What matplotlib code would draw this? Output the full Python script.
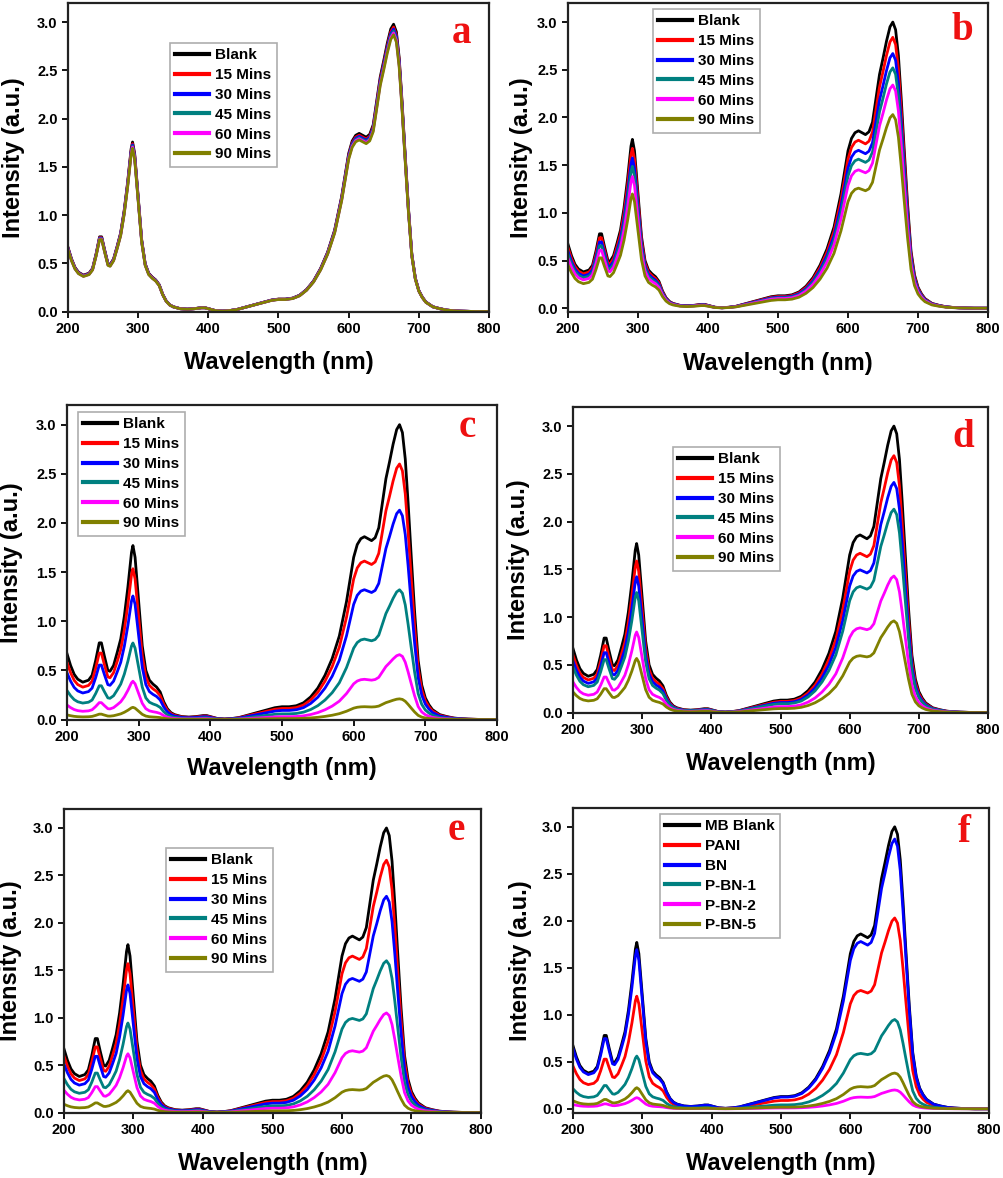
import numpy as np
import matplotlib
matplotlib.use('Agg')
import matplotlib.pyplot as plt

plt.rcParams['font.family'] = ['Liberation Sans', 'DejaVu Sans']
plt.rcParams['font.weight'] = 'bold'

# Blank methylene blue spectrum
wavelength = [200, 205, 210, 215, 222, 230, 235, 240, 245, 248, 252, 257, 260, 265,
              270, 275, 280, 285, 290, 292, 295, 300, 305, 310, 315, 320, 325, 330,
              335, 340, 345, 350, 360, 370, 380, 390, 395, 400, 410, 420, 430, 440,
              450, 460, 470, 480, 490, 500, 510, 520, 530, 540, 550, 560, 570, 580,
              590, 600, 605, 610, 615, 620, 625, 630, 635, 640, 645, 650, 655, 660,
              664, 668, 672, 676, 680, 685, 690, 695, 700, 705, 710, 720, 730, 740,
              750, 760, 780, 800]
blank = [0.67, 0.55, 0.46, 0.41, 0.38, 0.40, 0.45, 0.60, 0.78, 0.78, 0.65, 0.50, 0.49, 0.55,
         0.68, 0.82, 1.05, 1.35, 1.70, 1.77, 1.65, 1.20, 0.75, 0.50, 0.40, 0.36, 0.33, 0.28,
         0.18, 0.11, 0.07, 0.05, 0.03, 0.025, 0.03, 0.04, 0.04, 0.03, 0.01, 0.005, 0.01, 0.02,
         0.04, 0.06, 0.08, 0.10, 0.12, 0.13, 0.13, 0.14, 0.17, 0.23, 0.32, 0.45, 0.62, 0.85,
         1.20, 1.65, 1.78, 1.84, 1.86, 1.84, 1.82, 1.85, 1.95, 2.20, 2.45, 2.62, 2.80, 2.95,
         3.00, 2.92, 2.65, 2.20, 1.70, 1.10, 0.60, 0.35, 0.22, 0.15, 0.10, 0.05, 0.03, 0.015,
         0.008, 0.004, 0.0, 0.0]

time_labels = ['Blank', '15 Mins', '30 Mins', '45 Mins', '60 Mins', '90 Mins']
sample_labels = ['MB Blank', 'PANI', 'BN', 'P-BN-1', 'P-BN-2', 'P-BN-5']
colors = ['#000000', '#ff0000', '#0000ff', '#008080', '#ff00ff', '#808000']

# main peak (664 nm) height of each curve, per panel
peaks_a = [2.98, 2.95, 2.93, 2.91, 2.89, 2.87]
peaks_b = [3.00, 2.84, 2.67, 2.52, 2.34, 2.03]
peaks_c = [3.00, 2.60, 2.13, 1.32, 0.66, 0.21]
peaks_d = [3.00, 2.69, 2.41, 2.13, 1.43, 0.96]
peaks_e = [3.00, 2.66, 2.28, 1.60, 1.05, 0.39]
peaks_f = [3.00, 2.03, 2.87, 0.95, 0.20, 0.38]

W, H = 1004, 1178
fig = plt.figure(figsize=(W / 100, H / 100), dpi=100)

# name, peaks, labels, axes box (left, top, right, bottom in px), ylim bottom,
# legend box top-left px, letter pos (axes), ylabel right px, xlabel top px
panels = [
    ('a', peaks_a, time_labels, (68, 3, 489, 312), -0.005, (170, 43), (0.935, 0.90), 25, 351),
    ('b', peaks_b, time_labels, (568, 3, 988, 312), -0.04, (653, 9), (0.94, 0.91), 533, 352),
    ('c', peaks_c, time_labels, (67, 405, 497, 720), -0.005, (78, 412), (0.93, 0.93), 23, 757),
    ('d', peaks_d, time_labels, (573, 407, 988, 713), -0.005, (673, 447), (0.94, 0.90), 530, 752),
    ('e', peaks_e, time_labels, (64, 809, 481, 1113), -0.005, (166, 848), (0.94, 0.93), 22, 1152),
    ('f', peaks_f, sample_labels, (573, 808, 989, 1113), -0.045, (660, 814), (0.94, 0.92), 532, 1152),
]

blank_arr = np.array(blank)
for name, peaks, labels, box, ybot, leg, letter, ylab_px, xlab_px in panels:
    l, t, r, b = box
    ax = fig.add_axes([l / W, 1 - b / H, (r - l) / W, (b - t) / H])
    for pk, lab, c in zip(peaks, labels, colors):
        ax.plot(wavelength, blank_arr * pk / 3.0, color=c, lw=2.0, label=lab)
    ax.set_xlim(200, 800)
    ax.set_ylim(ybot, 3.2)
    ax.set_xticks(range(200, 801, 100))
    ax.set_yticks(np.arange(0, 3.01, 0.5))
    ax.yaxis.set_major_formatter(matplotlib.ticker.FormatStrFormatter('%.1f'))
    ax.tick_params(direction='out', length=4, width=1.3, labelsize=10.5,
                   top=False, right=False)
    for lbl in ax.get_xticklabels() + ax.get_yticklabels():
        lbl.set_fontweight('bold')
    for sp in ax.spines.values():
        sp.set_linewidth(1.6)
        sp.set_color('#222222')
    ax.set_xlabel('Wavelength (nm)', fontsize=17, fontweight='bold')
    ax.set_ylabel('Intensity (a.u.)', fontsize=17, fontweight='bold')
    ax.xaxis.set_label_coords(0.5, (b - xlab_px) / (b - t))
    ax.yaxis.set_label_coords((ylab_px - l) / (r - l), 0.5)
    lx = (leg[0] - l) / (r - l)
    ly = (b - leg[1]) / (b - t)
    lg = ax.legend(loc='upper left', bbox_to_anchor=(lx, ly), fontsize=11,
                   frameon=True, fancybox=False, handlelength=2.2,
                   handletextpad=0.4, labelspacing=0.38, borderpad=0.35,
                   borderaxespad=0)
    lg.get_frame().set_edgecolor('#999999')
    lg.get_frame().set_linewidth(1.2)
    for txt in lg.get_texts():
        txt.set_fontweight('bold')
    for ln in lg.get_lines():
        ln.set_linewidth(3)
    ax.text(letter[0], letter[1], name, transform=ax.transAxes, ha='center',
            va='center', color='#ee1111', fontsize=28, fontweight='bold',
            family='Liberation Serif')

fig.savefig('out.png', dpi=100)
